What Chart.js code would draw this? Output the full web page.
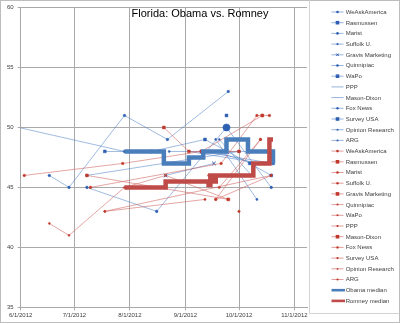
<!DOCTYPE html>
<html>
<head>
<meta charset="utf-8">
<script src="https://cdn.jsdelivr.net/npm/chart.js@4/dist/chart.umd.min.js"></script>
<style>
  html, body { margin: 0; padding: 0; background: #fff; }
  #wrap { width: 400px; height: 324px; position: relative; }
</style>
</head>
<body>
<div id="wrap"><canvas id="c"></canvas></div>
<script>
// ---- data ----
const chartTitle = 'Florida: Obama vs. Romney';
const xTickLabels = ['6/1/2012', '7/1/2012', '8/1/2012', '9/1/2012', '10/1/2012', '11/1/2012'];
const xRange = ['6/1/2012', '11/8/2012'];
const yTicks = [35, 40, 45, 50, 55, 60];

const pollsters = ['WeAskAmerica', 'Rasmussen', 'Marist', 'Suffolk U.', 'Gravis Marketing', 'Quinnipiac',
  'WaPo', 'PPP', 'Mason-Dixon', 'Fox News', 'Survey USA', 'Opinion Research', 'ARG'];

// [pollster, field date, Obama %]
const obamaPolls = [
  ['WeAskAmerica', '5/25/2012', 50.2], ['WeAskAmerica', '7/29/2012', 48],
  ['Rasmussen', '7/18/2012', 48], ['Rasmussen', '8/13/2012', 48], ['Rasmussen', '9/12/2012', 49],
  ['Rasmussen', '10/7/2012', 47], ['Rasmussen', '10/19/2012', 46],
  ['Marist', '7/8/2012', 45], ['Marist', '8/16/2012', 43], ['Marist', '9/24/2012', 50], ['Marist', '10/19/2012', 45],
  ['Suffolk U.', '9/18/2012', 49], ['Suffolk U.', '10/11/2012', 44],
  ['Gravis Marketing', '8/21/2012', 46], ['Gravis Marketing', '9/17/2012', 47],
  ['Quinnipiac', '6/17/2012', 46], ['Quinnipiac', '6/28/2012', 45], ['Quinnipiac', '7/29/2012', 51],
  ['Quinnipiac', '8/22/2012', 49], ['Quinnipiac', '9/25/2012', 53],
  ['WaPo', '9/24/2012', 51],
  ['PPP', '9/3/2012', 48], ['PPP', '10/14/2012', 47],
  ['Mason-Dixon', '9/17/2012', 48], ['Mason-Dixon', '10/10/2012', 47],
  ['Fox News', '7/8/2012', 46], ['Fox News', '10/1/2012', 48],
  ['Survey USA', '9/10/2012', 48], ['Survey USA', '10/20/2012', 47],
  ['Opinion Research', '8/23/2012', 48], ['Opinion Research', '10/18/2012', 48],
  ['ARG', '9/20/2012', 49], ['ARG', '10/8/2012', 46]
];

// [pollster, field date, Romney %]
const romneyPolls = [
  ['WeAskAmerica', '6/3/2012', 46], ['WeAskAmerica', '7/28/2012', 47], ['WeAskAmerica', '9/10/2012', 48],
  ['Rasmussen', '7/8/2012', 46], ['Rasmussen', '9/25/2012', 44],
  ['Marist', '7/10/2012', 45], ['Marist', '9/21/2012', 47], ['Marist', '10/11/2012', 51],
  ['Marist', '10/14/2012', 51], ['Marist', '10/18/2012', 51],
  ['Suffolk U.', '9/18/2012', 44], ['Suffolk U.', '10/13/2012', 49],
  ['Gravis Marketing', '8/20/2012', 50], ['Gravis Marketing', '9/3/2012', 48], ['Gravis Marketing', '10/1/2012', 48],
  ['Quinnipiac', '6/17/2012', 42], ['Quinnipiac', '6/28/2012', 41], ['Quinnipiac', '7/29/2012', 45],
  ['Quinnipiac', '8/21/2012', 46], ['Quinnipiac', '9/25/2012', 44],
  ['WaPo', '9/14/2012', 46],
  ['PPP', '7/18/2012', 43], ['PPP', '9/12/2012', 44],
  ['Mason-Dixon', '9/10/2012', 48], ['Mason-Dixon', '10/14/2012', 51],
  ['Fox News', '10/1/2012', 43],
  ['Survey USA', '9/18/2012', 44], ['Survey USA', '10/19/2012', 46],
  ['Opinion Research', '7/18/2012', 43], ['Opinion Research', '10/19/2012', 46],
  ['ARG', '9/20/2012', 45], ['ARG', '10/13/2012', 49]
];

// running medians (each value holds until the next date)
const obamaMedianDates  = ['7/29/2012', '8/20/2012', '9/3/2012', '9/11/2012', '9/24/2012', '10/6/2012', '10/20/2012'];
const obamaMedianValues = [48, 47, 47.5, 48, 49, 48, 47];
const romneyMedianDates  = ['7/29/2012', '8/21/2012', '9/14/2012', '9/15/2012', '9/17/2012', '9/18/2012', '10/9/2012', '10/18/2012', '10/20/2012'];
const romneyMedianValues = [45, 45.5, 45.2, 46, 45.5, 46, 47, 49, 49];

// ---- styles ----
const FONT = '"Liberation Sans", Arial, sans-serif';
const GRID = '#a9a9a9';
const BLUE_LINE = 'rgba(79,129,200,0.6)';
const BLUE_MARK = '#2f5fb3';
const RED_LINE = 'rgba(205,90,88,0.6)';
const RED_MARK = '#c0392b';
const OBAMA_MED = '#4a7ebb';
const ROMNEY_MED = '#be4b48';

// [pointStyle, radius] per pollster
const obamaMarkers = [['circle', 1.3], ['rect', 2], ['circle', 1.3], ['circle', 1.1], ['crossRot', 2.5],
  ['circle', 1.3], ['rect', 2], ['circle', 0], ['circle', 0], ['circle', 1.2], ['rect', 2], ['circle', 1], ['circle', 1]];
const romneyMarkers = [['circle', 1.3], ['rect', 2], ['circle', 1.3], ['circle', 1.2], ['rect', 2],
  ['circle', 1], ['circle', 1], ['circle', 1.1], ['rect', 2], ['circle', 1.2], ['circle', 1.1], ['circle', 0.9], ['circle', 1.1]];
// the larger Marist dot
const obamaMaristRadii = [1.3, 1.3, 3.6, 1.3];

function day(s) {
  const [m, d, y] = s.split('/').map(Number);
  return Date.UTC(y, m - 1, d) / 864e5;
}
const xTickDays = xTickLabels.map(day);

function pollSeries(rows, name) {
  return rows.filter(r => r[0] === name).map(r => ({ x: day(r[1]), y: r[2] }));
}
function medianSeries(dates, values) {
  return dates.map((d, i) => ({ x: day(d), y: values[i] }));
}

const datasets = [];
pollsters.forEach((name, i) => {
  const [style, r] = obamaMarkers[i];
  datasets.push({
    label: name, data: pollSeries(obamaPolls, name), showLine: true,
    borderColor: BLUE_LINE, borderWidth: 0.9,
    pointStyle: style, pointRadius: name === 'Marist' ? obamaMaristRadii : r,
    pointBackgroundColor: BLUE_MARK, pointBorderColor: BLUE_MARK,
    pointBorderWidth: style === 'crossRot' ? 1 : 0.5, order: 3
  });
});
pollsters.forEach((name, i) => {
  const [style, r] = romneyMarkers[i];
  datasets.push({
    label: name, data: pollSeries(romneyPolls, name), showLine: true,
    borderColor: RED_LINE, borderWidth: 0.9,
    pointStyle: style, pointRadius: r,
    pointBackgroundColor: RED_MARK, pointBorderColor: RED_MARK,
    pointBorderWidth: 0.5, order: 2
  });
});
// 'before': hold the previous value horizontally, then step at the new date
datasets.push({
  label: 'Obama median', data: medianSeries(obamaMedianDates, obamaMedianValues), showLine: true,
  stepped: 'before', borderColor: OBAMA_MED, borderWidth: 4.5, pointRadius: 0, order: 1, median: true
});
datasets.push({
  label: 'Romney median', data: medianSeries(romneyMedianDates, romneyMedianValues), showLine: true,
  stepped: 'before', borderColor: ROMNEY_MED, borderWidth: 4.5, pointRadius: 0, order: 0, median: true
});

function drawMarker(ctx, style, r, x, y, color) {
  if (!r) return;
  ctx.fillStyle = color; ctx.strokeStyle = color;
  if (style === 'rect') {
    ctx.fillRect(x - r, y - r, 2 * r, 2 * r);
  } else if (style === 'crossRot') {
    ctx.lineWidth = 1;
    ctx.beginPath();
    ctx.moveTo(x - r * 0.7, y - r * 0.7); ctx.lineTo(x + r * 0.7, y + r * 0.7);
    ctx.moveTo(x + r * 0.7, y - r * 0.7); ctx.lineTo(x - r * 0.7, y + r * 0.7);
    ctx.stroke();
  } else {
    ctx.beginPath(); ctx.arc(x, y, r, 0, Math.PI * 2); ctx.fill();
  }
}

// frame, title and the legend column on the right
const decorations = {
  id: 'decorations',
  beforeDraw(chart) {
    const ctx = chart.ctx;
    ctx.save(); ctx.fillStyle = '#fff'; ctx.fillRect(0, 0, chart.width, chart.height); ctx.restore();
  },
  afterDraw(chart) {
    const ctx = chart.ctx;
    ctx.save();
    ctx.strokeStyle = '#bdbdbd'; ctx.lineWidth = 1;
    ctx.strokeRect(0.5, 0.5, 399, 322);

    ctx.fillStyle = '#000';
    ctx.font = '11px ' + FONT;
    ctx.textAlign = 'center'; ctx.textBaseline = 'middle';
    ctx.fillText(chartTitle, 200, 14);

    ctx.strokeStyle = '#d4d4d4';
    ctx.beginPath();
    ctx.moveTo(309.5, 0.5); ctx.lineTo(309.5, 313.5); ctx.lineTo(399.5, 313.5);
    ctx.stroke();

    ctx.font = '6px ' + FONT;
    ctx.textAlign = 'left';
    chart.data.datasets.forEach((ds, i) => {
      const y = 12 + i * 10.7;
      ctx.strokeStyle = ds.borderColor;
      ctx.lineWidth = ds.median ? 2.6 : 1;
      ctx.beginPath(); ctx.moveTo(331.5, y); ctx.lineTo(ds.median ? 345 : 343.5, y); ctx.stroke();
      if (!ds.median) {
        const r = Array.isArray(ds.pointRadius) ? ds.pointRadius[0] : ds.pointRadius;
        drawMarker(ctx, ds.pointStyle, Math.min(r, 1.8), 337.5, y, ds.pointBackgroundColor);
      }
      ctx.fillStyle = '#404040';
      ctx.fillText(ds.label, 345.7, y + 0.3);
    });
    ctx.restore();
  }
};

new Chart(document.getElementById('c'), {
  type: 'scatter',
  data: { datasets },
  options: {
    responsive: true, maintainAspectRatio: false, devicePixelRatio: 1,
    animation: false,
    layout: { padding: { left: 0, top: 7.3, right: 93, bottom: 0 } },
    plugins: { legend: { display: false }, tooltip: { enabled: false }, title: { display: false } },
    scales: {
      x: {
        type: 'linear', min: day(xRange[0]), max: day(xRange[1]),
        afterBuildTicks: s => { s.ticks = xTickDays.map(v => ({ value: v })); },
        afterFit: s => { s.height = 16.7; },
        ticks: {
          callback: v => { const i = xTickDays.indexOf(v); return i >= 0 ? xTickLabels[i] : ''; },
          font: { size: 6, family: FONT }, color: '#404040', padding: 1, maxRotation: 0, autoSkip: false
        },
        grid: { color: GRID, lineWidth: 1, tickLength: 3 },
        border: { color: GRID }
      },
      y: {
        min: 35, max: 60,
        afterBuildTicks: s => { s.ticks = yTicks.map(v => ({ value: v })); },
        afterFit: s => { s.width = 20.7; },
        ticks: { font: { size: 6, family: FONT }, color: '#404040', padding: 4 },
        grid: { color: GRID, lineWidth: 1, tickLength: 3 },
        border: { color: GRID }
      }
    }
  },
  plugins: [decorations]
});
</script>
</body>
</html>
